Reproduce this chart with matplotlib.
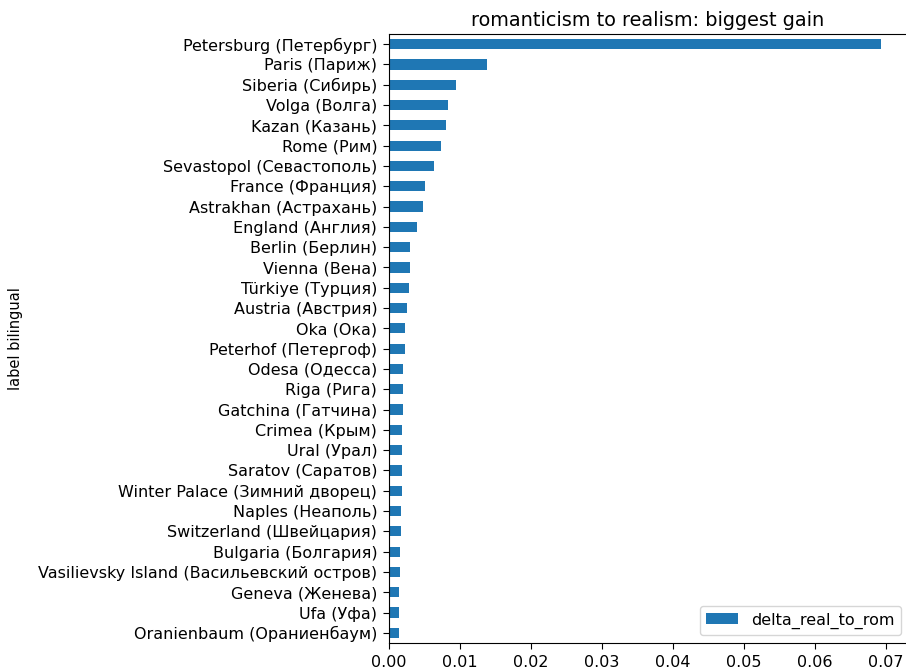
import matplotlib
matplotlib.use("Agg")
import matplotlib.pyplot as plt

# labels, top to bottom (biggest gain first)
labels = [
    "Petersburg (Петербург)", "Paris (Париж)", "Siberia (Сибирь)", "Volga (Волга)",
    "Kazan (Казань)", "Rome (Рим)", "Sevastopol (Севастополь)", "France (Франция)",
    "Astrakhan (Астрахань)", "England (Англия)", "Berlin (Берлин)", "Vienna (Вена)",
    "Türkiye (Турция)", "Austria (Австрия)", "Oka (Ока)", "Peterhof (Петергоф)",
    "Odesa (Одесса)", "Riga (Рига)", "Gatchina (Гатчина)", "Crimea (Крым)",
    "Ural (Урал)", "Saratov (Саратов)", "Winter Palace (Зимний дворец)",
    "Naples (Неаполь)", "Switzerland (Швейцария)", "Bulgaria (Болгария)",
    "Vasilievsky Island (Васильевский остров)", "Geneva (Женева)", "Ufa (Уфа)",
    "Oranienbaum (Ораниенбаум)",
]
delta_real_to_rom = [
    0.0693, 0.01385, 0.00944, 0.00831, 0.00798, 0.00737, 0.00634, 0.00511,
    0.00483, 0.00401, 0.00291, 0.00290, 0.00282, 0.00254, 0.00230, 0.00225,
    0.00197, 0.00193, 0.00192, 0.00188, 0.00187, 0.00178, 0.00177, 0.00169,
    0.00164, 0.00160, 0.00150, 0.00146, 0.00141, 0.00140,
]
xticks = [0, 0.01, 0.02, 0.03, 0.04, 0.05, 0.06, 0.07]

fs = 11.5
fig = plt.figure(figsize=(9.06, 6.71), dpi=100)
# axes run a little past the right edge, like the cropped original
ax = fig.add_axes([389 / 906, 28 / 671, 523 / 906, 609 / 671])

n = len(labels)
pos = list(range(n))[::-1]
ax.barh(pos, delta_real_to_rom, height=0.5, color="#1f77b4", label="delta_real_to_rom")
ax.set_yticks(pos)
ax.set_yticklabels(labels, fontsize=fs)
ax.set_ylim(-0.5, n - 0.5)
ax.set_xlim(0, 523 / 7100)
ax.set_xticks(xticks)
ax.set_xticklabels(["%.2f" % t for t in xticks], fontsize=fs)
ax.tick_params(length=4, pad=4.5)
ax.set_ylabel("label bilingual", fontsize=10.5, labelpad=11)
ax.set_title("romanticism to realism: biggest gain", fontsize=13.9, x=(648 - 389) / 523)
ax.legend(loc="lower right", fontsize=fs, bbox_to_anchor=(901 / 906, 36 / 671),
          bbox_transform=fig.transFigure, borderaxespad=0)

fig.savefig("out.png", dpi=100)
